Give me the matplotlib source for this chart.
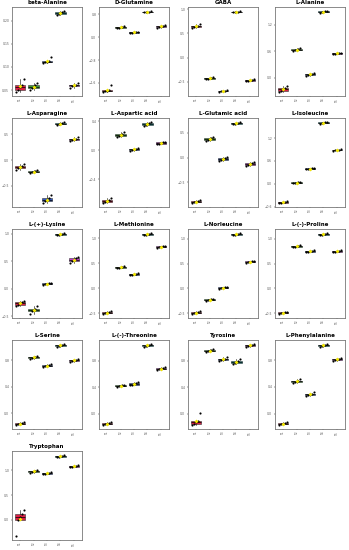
import numpy as np
import matplotlib
matplotlib.use("Agg")
import matplotlib.pyplot as plt
from matplotlib.ticker import MaxNLocator

# group labels on the x axis
groups = ["T1", "T2", "T3", "T4", "T5"]
box_colors = ["#DC1F45", "#3E9B3A", "#2F56C4", "#1E9EA3", "#C23CC8"]

titles = [
    "beta-Alanine", "D-Glutamine", "GABA", "L-Alanine",
    "L-Asparagine", "L-Aspartic acid", "L-Glutamic acid", "L-Isoleucine",
    "L-(+)-Lysine", "L-Methionine", "L-Norleucine", "L-(-)-Proline",
    "L-Serine", "L-(-)-Threonine", "Tyrosine", "L-Phenylalanine",
    "Tryptophan",
]

# replicate values per group (5 groups x 5 replicates) for each compound
beta_alanine = [[0.046, 0.051, 0.056, 0.062, 0.075], [0.050, 0.054, 0.057, 0.060, 0.066],
                [0.108, 0.110, 0.111, 0.112, 0.121], [0.213, 0.215, 0.217, 0.219, 0.221],
                [0.055, 0.058, 0.060, 0.062, 0.066]]
d_glutamine = [[-1.92, -1.89, -1.87, -1.85, -1.68], [0.32, 0.34, 0.36, 0.37, 0.39],
               [0.14, 0.16, 0.17, 0.18, 0.20], [0.87, 0.88, 0.89, 0.90, 0.92],
               [0.32, 0.36, 0.38, 0.41, 0.44]]
gaba = [[0.62, 0.64, 0.65, 0.66, 0.69], [-0.45, -0.44, -0.43, -0.42, -0.40],
        [-0.71, -0.70, -0.69, -0.68, -0.66], [0.93, 0.94, 0.94, 0.95, 0.96],
        [-0.49, -0.48, -0.47, -0.46, -0.44]]
l_alanine = [[-0.32, -0.29, -0.26, -0.23, -0.19], [0.60, 0.63, 0.64, 0.65, 0.67],
             [0.05, 0.07, 0.08, 0.09, 0.11], [1.47, 1.48, 1.49, 1.50, 1.51],
             [0.53, 0.54, 0.55, 0.56, 0.57]]
l_asparagine = [[-0.19, -0.16, -0.14, -0.12, -0.08], [-0.25, -0.23, -0.22, -0.21, -0.19],
                [-0.83, -0.80, -0.77, -0.74, -0.68], [0.68, 0.70, 0.71, 0.72, 0.74],
                [0.37, 0.39, 0.41, 0.42, 0.45]]
l_aspartic = [[-0.73, -0.71, -0.70, -0.69, -0.66], [0.18, 0.20, 0.21, 0.22, 0.25],
              [-0.01, 0.00, 0.01, 0.02, 0.03], [0.33, 0.35, 0.36, 0.37, 0.39],
              [0.08, 0.09, 0.10, 0.11, 0.12]]
l_glutamic = [[-0.91, -0.90, -0.89, -0.88, -0.86], [0.34, 0.36, 0.38, 0.39, 0.42],
              [-0.07, -0.05, -0.03, -0.01, 0.02], [0.67, 0.68, 0.69, 0.70, 0.71],
              [-0.17, -0.15, -0.13, -0.11, -0.08]]
l_isoleucine = [[-0.50, -0.49, -0.48, -0.47, -0.45], [0.01, 0.02, 0.03, 0.04, 0.05],
                [0.38, 0.39, 0.40, 0.41, 0.42], [1.58, 1.59, 1.60, 1.61, 1.62],
                [0.87, 0.88, 0.89, 0.90, 0.91]]
l_lysine = [[-0.31, -0.29, -0.27, -0.25, -0.22], [-0.46, -0.41, -0.39, -0.37, -0.32],
            [0.07, 0.08, 0.09, 0.10, 0.11], [0.97, 0.98, 0.99, 1.00, 1.01],
            [0.46, 0.50, 0.52, 0.55, 0.58]]
l_methionine = [[-0.51, -0.50, -0.49, -0.48, -0.46], [0.40, 0.41, 0.42, 0.43, 0.44],
                [0.26, 0.27, 0.28, 0.29, 0.30], [1.06, 1.07, 1.08, 1.09, 1.10],
                [0.81, 0.82, 0.83, 0.84, 0.85]]
l_norleucine = [[-0.51, -0.50, -0.49, -0.48, -0.46], [-0.25, -0.24, -0.23, -0.22, -0.21],
                [-0.01, 0.00, 0.01, 0.02, 0.03], [1.07, 1.08, 1.09, 1.10, 1.11],
                [0.52, 0.53, 0.54, 0.55, 0.56]]
l_proline = [[-0.51, -0.50, -0.49, -0.48, -0.47], [0.83, 0.84, 0.85, 0.86, 0.87],
             [0.73, 0.74, 0.75, 0.76, 0.77], [1.07, 1.08, 1.09, 1.10, 1.11],
             [0.73, 0.74, 0.75, 0.76, 0.78]]
l_serine = [[-0.18, -0.17, -0.16, -0.15, -0.14], [0.83, 0.84, 0.85, 0.86, 0.87],
            [0.70, 0.71, 0.72, 0.73, 0.74], [1.01, 1.02, 1.03, 1.04, 1.05],
            [0.78, 0.79, 0.80, 0.81, 0.82]]
l_threonine = [[-0.17, -0.16, -0.15, -0.14, -0.13], [0.40, 0.41, 0.42, 0.43, 0.44],
               [0.43, 0.44, 0.45, 0.46, 0.48], [1.01, 1.02, 1.03, 1.04, 1.05],
               [0.66, 0.67, 0.68, 0.69, 0.70]]
tyrosine = [[-0.17, -0.15, -0.13, -0.11, 0.01], [0.93, 0.94, 0.95, 0.96, 0.97],
            [0.80, 0.81, 0.82, 0.83, 0.85], [0.75, 0.77, 0.78, 0.79, 0.82],
            [1.01, 1.02, 1.03, 1.04, 1.05]]
l_phenylalanine = [[-0.17, -0.16, -0.15, -0.14, -0.13], [0.45, 0.47, 0.48, 0.49, 0.51],
                   [0.27, 0.28, 0.29, 0.30, 0.33], [1.00, 1.01, 1.02, 1.03, 1.04],
                   [0.79, 0.80, 0.81, 0.82, 0.83]]
tryptophan = [[-0.32, 0.00, 0.06, 0.12, 0.20], [0.95, 0.97, 0.98, 0.99, 1.01],
              [0.92, 0.93, 0.94, 0.95, 0.96], [1.26, 1.27, 1.28, 1.29, 1.30],
              [1.06, 1.07, 1.08, 1.09, 1.10]]

panel_data = [beta_alanine, d_glutamine, gaba, l_alanine,
              l_asparagine, l_aspartic, l_glutamic, l_isoleucine,
              l_lysine, l_methionine, l_norleucine, l_proline,
              l_serine, l_threonine, tyrosine, l_phenylalanine,
              tryptophan]

# horizontal spread of the replicate points inside a group
jitter = [-0.28, -0.13, 0.0, 0.14, 0.27]

W, H = 349, 550
fig = plt.figure(figsize=(W / 100, H / 100), dpi=100)

col_left = [12, 99, 188, 275]
row_top = [7, 118, 229, 340, 451]
pw, ph = 70, 89


def draw_panel(ax, data, title):
    pos = np.arange(1, len(groups) + 1)
    bp = ax.boxplot(data, positions=pos, widths=0.75, patch_artist=True,
                    showfliers=False, whis=1.5,
                    medianprops=dict(color="black", linewidth=0.5),
                    whiskerprops=dict(color="black", linewidth=0.4),
                    capprops=dict(linewidth=0),
                    boxprops=dict(linewidth=0.4, edgecolor="#333333"))
    for patch, c in zip(bp["boxes"], box_colors):
        patch.set_facecolor(c)
    for i, vals in enumerate(data):
        xs = pos[i] + np.array(jitter[:len(vals)])
        ax.scatter(xs, vals, s=2.4, color="black", zorder=3, linewidths=0)
        ax.scatter([pos[i]], [np.mean(vals)], s=4, color="#F2E600",
                   marker="D", zorder=4, linewidths=0)
    ax.set_xlim(0.4, len(groups) + 0.6)
    lo = min(min(v) for v in data)
    hi = max(max(v) for v in data)
    pad = (hi - lo) * 0.05
    ax.set_ylim(lo - pad, hi + pad)
    ax.yaxis.set_major_locator(MaxNLocator(4))
    ax.set_xticks(pos)
    ax.set_xticklabels(groups, rotation=90, fontsize=2.2, color="#555555")
    ax.tick_params(axis="y", labelsize=2.2, labelcolor="#555555", length=1, width=0.3, pad=1)
    ax.tick_params(axis="x", length=1, width=0.3, pad=1)
    for s in ax.spines.values():
        s.set_color("#777777")
        s.set_linewidth(0.6)
    ax.set_title(title, fontsize=4.0, fontweight="bold", pad=2)


for k, (title, data) in enumerate(zip(titles, panel_data)):
    r, c = divmod(k, 4)
    left = col_left[c] / W
    bottom = 1 - (row_top[r] + ph) / H
    ax = fig.add_axes([left, bottom, pw / W, ph / H])
    draw_panel(ax, data, title)

fig.savefig("out.png", dpi=100, facecolor="white")
